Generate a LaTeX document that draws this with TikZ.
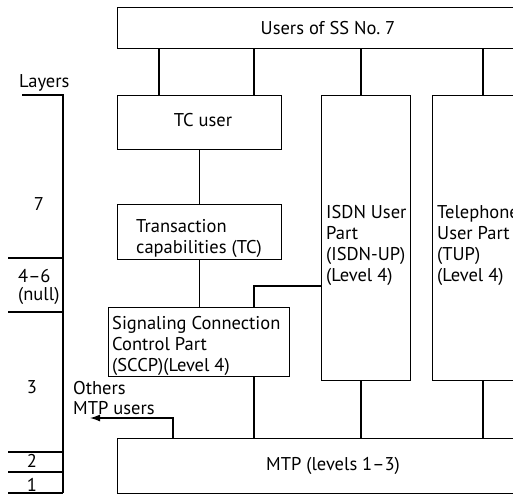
\documentclass[tikz,border=0pt]{standalone}
\usepackage{fontspec}
\setmainfont{PT Sans}
\usetikzlibrary{arrows.meta}
\begin{document}
\begin{tikzpicture}[x=1pt,y=-1pt,
  box/.style={draw, line width=1.3pt, rectangle, inner sep=0pt, anchor=north west},
  lbl/.style={inner sep=0pt, font=\fontsize{18.5}{21}\selectfont, align=left, anchor=base west},
  wire/.style={line width=1.3pt},
  arr/.style={line width=1.3pt, -{Latex[length=10pt,width=7pt]}}]
\useasboundingbox (0,0) rectangle (513,495);
\clip (0,0) rectangle (513,495);

% boxes
\node[box, minimum width=420pt, minimum height=41pt] (users) at (117,7) {};
\node[box, minimum width=164pt, minimum height=54pt] (tcuser) at (117,95) {};
\node[box, minimum width=164pt, minimum height=55pt] (tc) at (117,204) {};
\node[box, minimum width=181pt, minimum height=69pt] (sccp) at (108,307) {};
\node[box, minimum width=89pt, minimum height=285pt] (isdn) at (321,95) {};
\node[box, minimum width=95pt, minimum height=285pt] (tup) at (432,95) {};
\node[box, minimum width=420pt, minimum height=55pt] (mtp) at (117,438) {};

% texts (multi-line: anchor on last baseline)
\node[lbl, anchor=base] (tusers) at (328,35) {Users of SS No.~7};
\node[lbl, anchor=base] (ttcuser) at (203,126) {TC user};
\node[lbl] (ttc) at (136,253) {Transaction\\capabilities (TC)};
\node[lbl] (tsccp) at (112,371) {Signaling Connection\\Control Part\\(SCCP)(Level 4)};
\node[lbl] (tisdn) at (326,281) {ISDN User\\Part\\(ISDN-UP)\\(Level 4)};
\node[lbl] (ttup) at (437,281) {Telephone\\User Part\\(TUP)\\(Level 4)};
\node[lbl, anchor=base] (tmtp) at (333,470) {MTP (levels 1--3)};
\node[lbl] (tothers) at (73,414) {Others\\[-1pt]MTP users};

% layer labels
\node[lbl] (tlayers) at (19,87) {Layers};
\node[lbl, anchor=base] (l7) at (39,210) {7};
\node[lbl] (l46) at (18,300) {4--6\\[-3pt](null)};
\node[lbl, anchor=base] (l3) at (32,393) {3};
\node[lbl, anchor=base] (l2) at (32,467) {2};
\node[lbl, anchor=base] (l1) at (32,491) {1};

% layer scale
\coordinate (ls0) at (22,95);
\coordinate (lax) at (63,95);
\coordinate (lbot) at (63,493);
\coordinate (lt1) at (8,258);
\coordinate (lt2) at (8,312);
\coordinate (lt3) at (8,452);
\coordinate (lt4) at (8,472);
\coordinate (lt5) at (8,493);
\draw[wire] (ls0) -- (lax) -- (lbot);
\foreach \t in {lt1,lt2,lt3,lt4,lt5} \draw[wire] (\t) -- (\t -| lax);

% connector positions
\coordinate (xa) at (159,0);
\coordinate (xb) at (254,0);
\coordinate (xc) at (361,0);
\coordinate (xd) at (483,0);
\coordinate (xo) at (173,0);
\coordinate (yk) at (0,286);
\coordinate (oend) at (90,418);

\draw[wire] (users.south -| xa) -- (tcuser.north -| xa);
\draw[wire] (users.south -| xb) -- (tcuser.north -| xb);
\draw[wire] (users.south -| xc) -- (isdn.north -| xc);
\draw[wire] (users.south -| xd) -- (tup.north -| xd);
\draw[wire] (tcuser.south) -- (tc.north);
\draw[wire] (tc.south) -- (sccp.north -| tc.south);
\draw[wire] (sccp.north -| xb) |- (isdn.west |- yk);
\draw[wire] (sccp.south -| xb) -- (mtp.north -| xb);
\draw[wire] (isdn.south -| xc) -- (mtp.north -| xc);
\draw[wire] (tup.south -| xd) -- (mtp.north -| xd);
\draw[arr] (mtp.north -| xo) |- (oend);
\end{tikzpicture}
\end{document}
